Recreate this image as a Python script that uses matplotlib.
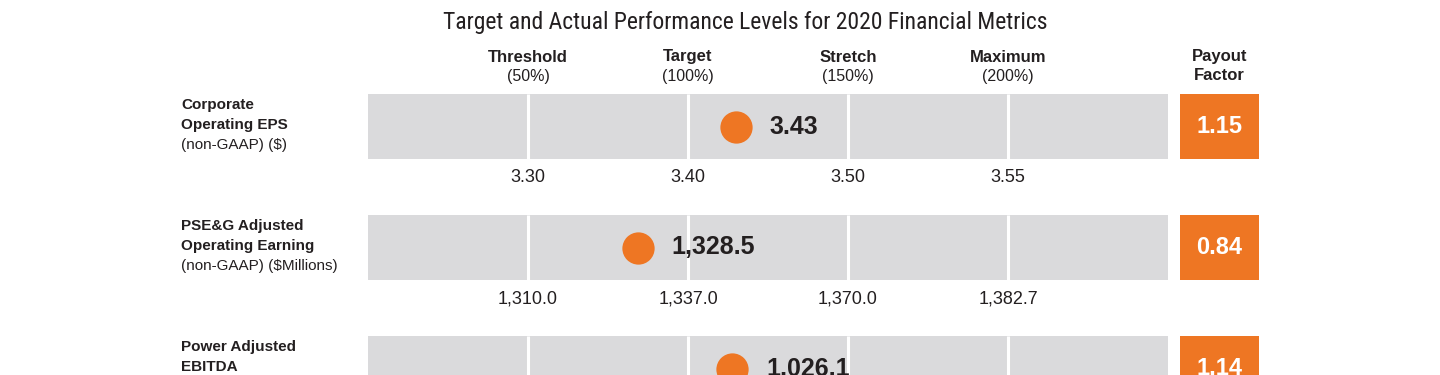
import numpy as np
import matplotlib
matplotlib.use("Agg")
import matplotlib.pyplot as plt

# data
levels = ["Threshold", "Target", "Stretch", "Maximum"]
level_labels = ["(50%)", "(100%)", "(150%)", "(200%)"]
level_pcts = [50, 100, 150, 200]
metric_line1 = ["Corporate", "PSE&G Adjusted", "Power Adjusted"]
metric_line2 = ["Operating EPS", "Operating Earning", "EBITDA"]
metric_units = ["(non-GAAP) ($)", "(non-GAAP) ($Millions)", "(non-GAAP) ($Millions)"]
threshold = [3.30, 1310.0, 940.0]
target = [3.40, 1337.0, 990.0]
stretch = [3.50, 1370.0, 1120.0]
maximum = [3.55, 1382.7, 1150.0]
actual = [3.43, 1328.5, 1026.1]
payout = [1.15, 0.84, 1.14]
fmts = ["{:.2f}", "{:,.1f}", "{:,.1f}"]

GRAY = "#DADADC"
ORANGE = "#EE7623"
TEXT = "#231F20"
plt.rcParams['font.family'] = ['Liberation Sans', 'DejaVu Sans']
NARROW = ['Roboto Condensed', 'Liberation Sans', 'DejaVu Sans']

fig = plt.figure(figsize=(14.4, 3.75), dpi=100)
ax = fig.add_axes([0, 0, 1, 1])
# x axis in performance percent, y in pixels from top
ax.set_xlim(-115, 335)
ax.set_ylim(375, 0)
ax.axis("off")

ax.text(118, 22, "Target and Actual Performance Levels for 2020 Financial Metrics",
        ha="center", va="center", fontsize=17, color=TEXT, family=NARROW)

for name, lab, p in zip(levels, level_labels, level_pcts):
    ax.text(p, 57, name, ha="center", va="center", fontsize=12, fontweight="bold", color=TEXT)
    ax.text(p, 76, lab, ha="center", va="center", fontsize=11.5, color=TEXT)

ax.text(266, 57, "Payout", ha="center", va="center", fontsize=12, fontweight="bold", color=TEXT)
ax.text(266, 76, "Factor", ha="center", va="center", fontsize=12, fontweight="bold", color=TEXT)

row_h = 65
for i in range(len(actual)):
    yc = 126.5 + 121 * i
    ax.barh(yc, 250, left=0, height=row_h, color=GRAY, zorder=1)
    for p in level_pcts:
        ax.vlines(p, yc - row_h / 2, yc + row_h / 2, color="white", lw=2.2, zorder=2)
    ax.barh(yc, 24.7, left=253.75, height=row_h, color=ORANGE, zorder=1)
    ax.text(266, yc, "{:.2f}".format(payout[i]), ha="center", va="center",
            fontsize=17, fontweight="bold", color="white", zorder=3)

    # place the dot by interpolating the actual result between the levels
    vals = [threshold[i], target[i], stretch[i], maximum[i]]
    pct = np.interp(actual[i], vals, level_pcts)
    ax.scatter([pct], [yc], s=540, color=ORANGE, zorder=3, linewidths=0)
    ax.text(pct + 10.6, yc, fmts[i].format(actual[i]), ha="left", va="center",
            fontsize=18, fontweight="bold", color=TEXT, zorder=3)

    for p, v in zip(level_pcts, vals):
        ax.text(p, yc + 51, fmts[i].format(v), ha="center", va="center",
                fontsize=13, color=TEXT)

    ax.text(-58.4, yc - 21.5, metric_line1[i], ha="left", va="center", fontsize=11,
            fontweight="bold", color=TEXT)
    ax.text(-58.4, yc - 1.5, metric_line2[i], ha="left", va="center", fontsize=11,
            fontweight="bold", color=TEXT)
    ax.text(-58.4, yc + 18.5, metric_units[i], ha="left", va="center", fontsize=11, color=TEXT)

fig.savefig("out.png", dpi=100)
